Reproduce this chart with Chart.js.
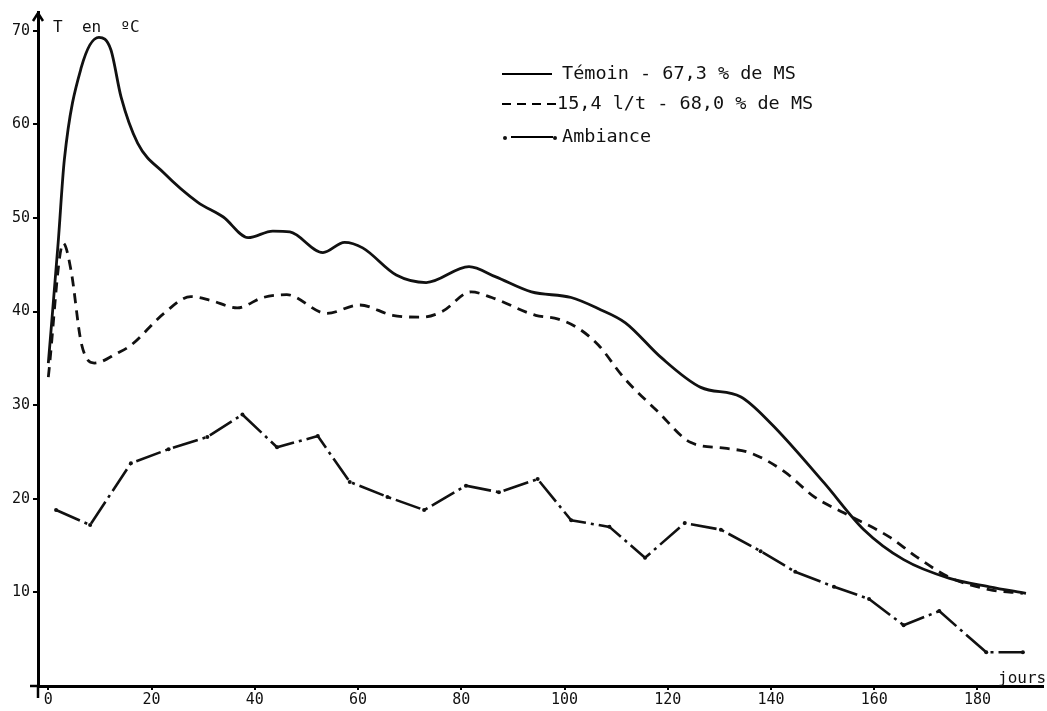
<!DOCTYPE html>
<html lang="fr">
<head>
<meta charset="UTF-8">
<title>Température</title>
<script src="https://cdn.jsdelivr.net/npm/chart.js"></script>
<style>
  body { margin: 0; background: #fff; }
  canvas { display: block; }
</style>
</head>
<body>
<canvas id="graphe" width="1047" height="711"></canvas>
<script>
// valeurs
const temoinJours = [0, 1.9, 3.1, 6.4, 9.8, 12.1, 14.1, 17.3, 22.4, 28.9, 33.9, 38.7, 43.5, 46.8, 53.2, 57.4, 60.9, 67.4, 73.2, 81.5, 86.7, 93.6, 101.3, 106.6, 111.8, 118.7, 126.4, 134.1, 139.9, 150.3, 158, 165.7, 174.6, 182.3, 189.4];
const temoinT =     [34.5, 47.3, 56.2, 66.1, 69.3, 68.0, 62.9, 58.0, 54.8, 51.7, 50.1, 47.9, 48.6, 48.5, 46.3, 47.4, 46.8, 43.9, 43.1, 44.8, 43.7, 42.1, 41.5, 40.3, 38.8, 35.1, 31.9, 30.9, 28.1, 21.7, 16.7, 13.5, 11.5, 10.6, 9.9];

const dose15Jours = [0, 2.9, 4.4, 6.4, 8.9, 13.5, 16, 22.4, 27.6, 31.4, 36.6, 41.6, 46.2, 53.9, 60.3, 66.7, 72.4, 76.3, 81.9, 85.9, 94.4, 98.8, 102.7, 106.6, 111.4, 118.1, 124.5, 131, 136, 142.6, 148.4, 154.1, 163, 168.2, 174.6, 182.3, 188.8];
const dose15T =     [33.0, 47.3, 44.4, 36.6, 34.5, 35.6, 36.4, 39.8, 41.6, 41.2, 40.4, 41.5, 41.8, 39.8, 40.7, 39.6, 39.4, 40.0, 42.1, 41.5, 39.6, 39.2, 38.2, 36.4, 33.0, 29.3, 26.0, 25.4, 24.9, 22.9, 20.2, 18.5, 15.9, 13.8, 11.6, 10.3, 9.9];

const ambianceJours = [1.5, 8.1, 16, 23.3, 30.8, 37.6, 44.3, 52.2, 58.4, 65.7, 72.8, 80.9, 87.3, 94.8, 101.3, 108.7, 115.6, 123.3, 130.3, 138, 144.7, 152.2, 159, 165.7, 172.6, 181.7, 188.8];
const ambianceT =     [18.8, 17.2, 23.8, 25.3, 26.6, 29.0, 25.5, 26.7, 21.8, 20.2, 18.8, 21.4, 20.7, 22.1, 17.7, 17.0, 13.7, 17.4, 16.7, 14.4, 12.2, 10.6, 9.3, 6.5, 8.0, 3.6, 3.6];

const xTicks = [0, 20, 40, 60, 80, 100, 120, 140, 160, 180];
const yTicks = [10, 20, 30, 40, 50, 60, 70];

const legendes = ['Témoin - 67,3 % de MS', '15,4 l/t - 68,0 % de MS', 'Ambiance'];

const points = (xs, ys) => xs.map((x, i) => ({ x: x, y: ys[i] }));

const police = '"DejaVu Sans Mono", monospace';

// titres d'axes, flèche et légende dessinés à la main
const decor = {
  id: 'decor',
  afterDraw(chart) {
    const c = chart.ctx;
    const a = chart.chartArea;
    c.save();
    c.strokeStyle = '#000';
    c.fillStyle = '#111';
    // flèche en haut de l'axe
    c.lineWidth = 2.5;
    c.beginPath();
    c.moveTo(a.left - 5, a.top + 9);
    c.lineTo(a.left, a.top + 1);
    c.lineTo(a.left + 5, a.top + 9);
    c.stroke();
    c.beginPath();
    c.moveTo(a.left, a.bottom);
    c.lineTo(a.left, a.bottom + 12);
    c.stroke();
    c.beginPath();
    c.moveTo(a.left - 8, a.bottom);
    c.lineTo(a.left, a.bottom);
    c.stroke();

    c.font = '16px ' + police;
    c.textBaseline = 'middle';
    c.textAlign = 'left';
    c.fillText('T  en  ºC', 53, 28);
    c.fillText('jours', 998, 679);

    // légende
    c.font = '18.5px ' + police;
    c.lineWidth = 2.2;
    let y = 74;
    c.beginPath(); c.moveTo(502, y); c.lineTo(552, y); c.stroke();
    c.fillText(legendes[0], 562, y);
    y = 104;
    c.setLineDash([9, 6]);
    c.beginPath(); c.moveTo(502, y); c.lineTo(556, y); c.stroke();
    c.setLineDash([]);
    c.fillText(legendes[1], 557, y);
    y = 137;
    c.beginPath(); c.arc(505, y + 1, 2, 0, Math.PI * 2); c.fill();
    c.beginPath(); c.moveTo(511, y); c.lineTo(553, y); c.stroke();
    c.beginPath(); c.arc(555, y + 1, 2, 0, Math.PI * 2); c.fill();
    c.fillText(legendes[2], 562, y);
    c.restore();
  }
};

new Chart(document.getElementById('graphe'), {
  type: 'scatter',
  data: {
    datasets: [
      {
        label: legendes[0],
        data: points(temoinJours, temoinT),
        showLine: true,
        borderColor: '#111',
        borderWidth: 2.8,
        pointRadius: 0,
        cubicInterpolationMode: 'monotone'
      },
      {
        label: legendes[1],
        data: points(dose15Jours, dose15T),
        showLine: true,
        borderColor: '#111',
        borderWidth: 2.8,
        borderDash: [10, 7],
        pointRadius: 0,
        cubicInterpolationMode: 'monotone'
      },
      {
        label: legendes[2],
        data: points(ambianceJours, ambianceT),
        showLine: true,
        borderColor: '#111',
        borderWidth: 2.6,
        borderDash: [26, 5, 3, 5],
        pointRadius: 2,
        pointBackgroundColor: '#111',
        pointBorderWidth: 0,
        tension: 0
      }
    ]
  },
  options: {
    responsive: false,
    animation: false,
    events: [],
    layout: { padding: { top: 12, right: 0, left: 0, bottom: 0 } },
    plugins: { legend: { display: false }, tooltip: { enabled: false } },
    scales: {
      x: {
        type: 'linear',
        min: -2,
        max: 192.7,
        afterFit: s => { s.height = 25; },
        afterBuildTicks: s => { s.ticks = xTicks.map(v => ({ value: v })); },
        border: { color: '#000', width: 3 },
        grid: { drawOnChartArea: false, color: '#000', tickLength: 4, lineWidth: 2 },
        ticks: { color: '#111', padding: 1, font: { family: police, size: 15 } }
      },
      y: {
        type: 'linear',
        min: 0,
        max: 72,
        afterFit: s => { s.width = 38; },
        afterBuildTicks: s => { s.ticks = yTicks.map(v => ({ value: v })); },
        border: { color: '#000', width: 3 },
        grid: { drawOnChartArea: false, color: '#000', tickLength: 5, lineWidth: 2 },
        ticks: { color: '#111', padding: 3, font: { family: police, size: 15 } }
      }
    }
  },
  plugins: [decor]
});
</script>
</body>
</html>
